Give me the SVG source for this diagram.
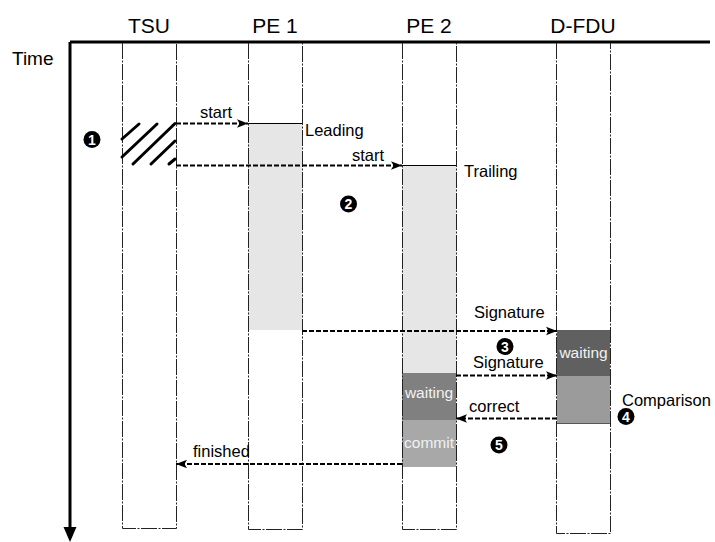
<svg xmlns="http://www.w3.org/2000/svg" width="715" height="542" viewBox="0 0 715 542">
  <style>
    text { font-family: "Liberation Sans", Arial, sans-serif; fill: #000; }
    .hdr { font-size: 21px; text-anchor: middle; }
    .lbl { font-size: 16.5px; }
    .inbox { font-size: 15.5px; fill: #f2f2f2; text-anchor: middle; }
    .lane { fill: none; stroke: #222; stroke-width: 1; stroke-dasharray: 16 1.5 2 1.5; }
    .msg { fill: none; stroke: #000; stroke-width: 2.2; stroke-dasharray: 5 2; }
    .hatch { stroke: #000; stroke-width: 3; stroke-linecap: round; }
    .step circle { fill: #000; }
    .step text { fill: #fff; font-size: 14px; font-weight: bold; text-anchor: middle; }
  </style>
  <defs>
    <marker id="arrow" markerUnits="userSpaceOnUse" markerWidth="12" markerHeight="10" refX="11" refY="5" orient="auto">
      <path d="M0,0.8 L11,5 L0,9.2 L2.5,5 Z" fill="#000"/>
    </marker>
    <marker id="axisHead" markerUnits="userSpaceOnUse" markerWidth="14" markerHeight="16" refX="7" refY="1" orient="0">
      <path d="M0.5,0 L13.5,0 L7,15 Z" fill="#000"/>
    </marker>
  </defs>

  <!-- time axis and header rule -->
  <g id="axis">
    <line x1="70" y1="42" x2="710" y2="42" stroke="#000" stroke-width="3"/>
    <line x1="70" y1="42" x2="70" y2="528" stroke="#000" stroke-width="3" marker-end="url(#axisHead)"/>
    <text x="12" y="65" font-size="19">Time</text>
  </g>

  <!-- TSU lane -->
  <g id="tsu">
    <text class="hdr" x="149" y="33">TSU</text>
    <path class="lane" d="M122.5,43 V528.5 H176.5 V43"/>
    <g id="tsu-busy">
      <line class="hatch" x1="122" y1="139" x2="139" y2="124"/>
      <line class="hatch" x1="122" y1="157" x2="157" y2="124"/>
      <line class="hatch" x1="133" y1="164" x2="175" y2="123.5"/>
      <line class="hatch" x1="151" y1="164" x2="175" y2="141"/>
      <line class="hatch" x1="169" y1="164" x2="175" y2="159"/>
    </g>
  </g>

  <!-- PE 1 lane -->
  <g id="pe1">
    <text class="hdr" x="275" y="33">PE 1</text>
    <rect x="248" y="123" width="54" height="207" fill="#e6e6e6"/>
    <line x1="248" y1="123.5" x2="302" y2="123.5" stroke="#000" stroke-width="1"/>
    <path class="lane" d="M248.5,43 V529.5 H302.5 V43"/>
    <text class="lbl" x="305" y="136">Leading</text>
  </g>

  <!-- PE 2 lane -->
  <g id="pe2">
    <text class="hdr" x="429" y="33">PE 2</text>
    <rect x="402" y="165" width="54" height="208" fill="#e6e6e6"/>
    <line x1="402" y1="165.5" x2="456" y2="165.5" stroke="#000" stroke-width="1"/>
    <rect x="402" y="373" width="54" height="47" fill="#808080"/>
    <rect x="402" y="420" width="54" height="47" fill="#a8a8a8"/>
    <path class="lane" d="M402.5,43 V529.5 H456.5 V43"/>
    <text class="lbl" x="464" y="177">Trailing</text>
    <text class="inbox" x="429" y="398">waiting</text>
    <text class="inbox" x="429" y="448">commit</text>
  </g>

  <!-- D-FDU lane -->
  <g id="dfdu">
    <text class="hdr" x="583" y="33">D-FDU</text>
    <rect x="557" y="330" width="53" height="46" fill="#606060"/>
    <rect x="557" y="376" width="53" height="47" fill="#9b9b9b"/>
    <line x1="557" y1="423.5" x2="610" y2="423.5" stroke="#555" stroke-width="1"/>
    <path class="lane" d="M556.5,43 V533.5 H610.5 V43"/>
    <text class="inbox" x="583.5" y="358">waiting</text>
    <text class="lbl" x="622" y="406">Comparison</text>
  </g>

  <!-- messages between units -->
  <g id="connectors">
    <line class="msg" x1="176" y1="123.5" x2="248" y2="123.5" marker-end="url(#arrow)"/>
    <text class="lbl" x="200" y="118">start</text>
    <line class="msg" x1="176" y1="165.5" x2="402" y2="165.5" marker-end="url(#arrow)"/>
    <text class="lbl" x="352" y="161">start</text>
    <line class="msg" x1="302" y1="331" x2="557" y2="331" marker-end="url(#arrow)"/>
    <text class="lbl" x="474" y="318">Signature</text>
    <line class="msg" x1="456" y1="375.5" x2="557" y2="375.5" marker-end="url(#arrow)"/>
    <text class="lbl" x="473" y="368">Signature</text>
    <line class="msg" x1="557" y1="418.5" x2="456" y2="418.5" marker-end="url(#arrow)"/>
    <text class="lbl" x="469" y="412">correct</text>
    <line class="msg" x1="402" y1="464" x2="176" y2="464" marker-end="url(#arrow)"/>
    <text class="lbl" x="193" y="457">finished</text>
  </g>

  <!-- numbered steps -->
  <g id="steps">
    <g class="step"><circle cx="92" cy="139.5" r="8.5"/><text x="92" y="144.5">1</text></g>
    <g class="step"><circle cx="348.5" cy="204" r="8.5"/><text x="348.5" y="209">2</text></g>
    <g class="step"><circle cx="505" cy="346.5" r="8.5"/><text x="505" y="351.5">3</text></g>
    <g class="step"><circle cx="626" cy="416.5" r="8.5"/><text x="626" y="421.5">4</text></g>
    <g class="step"><circle cx="499" cy="445" r="8.5"/><text x="499" y="450">5</text></g>
  </g>
</svg>
